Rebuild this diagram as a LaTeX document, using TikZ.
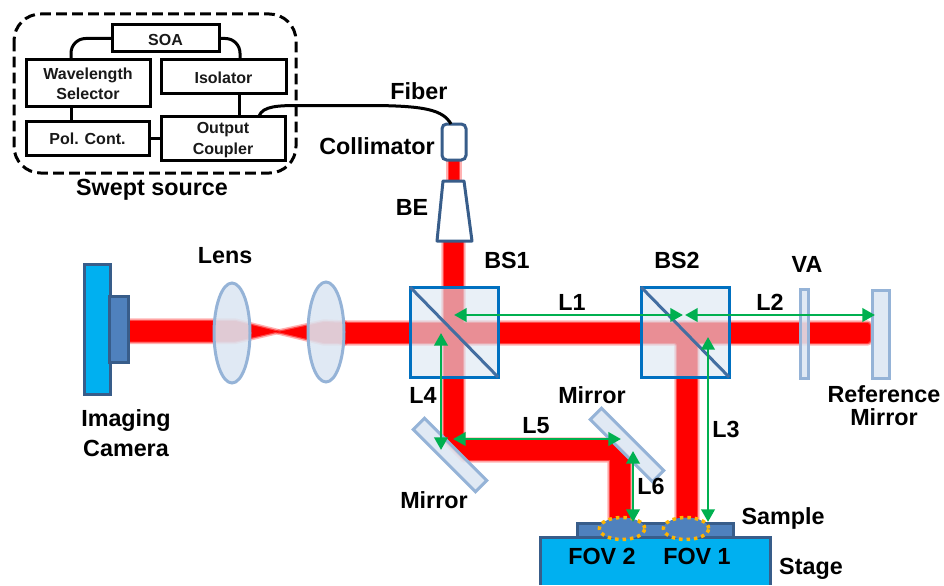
\documentclass[tikz,border=0pt]{standalone}
\usepackage{fontspec}
\setmainfont{Liberation Sans}
\usetikzlibrary{arrows.meta,shapes.geometric}
\definecolor{beamred}{RGB}{255,0,0}
\definecolor{edgedark}{RGB}{56,93,138}
\definecolor{edgeblue}{RGB}{0,112,192}
\definecolor{edgepale}{RGB}{149,179,215}
\definecolor{palefill}{RGB}{220,230,242}
\definecolor{camblue}{RGB}{0,176,240}
\definecolor{midblue}{RGB}{79,129,189}
\definecolor{arrowgreen}{RGB}{0,176,80}
\definecolor{fovgold}{RGB}{255,180,0}
% \pxbox{style}{name}{x1}{y1}{x2}{y2}{text}
\newcommand{\pxbox}[7][]{%
  \pgfmathsetmacro{\pxw}{(#5-#3)*0.75}%
  \pgfmathsetmacro{\pxh}{(#6-#4)*0.75}%
  \node[#2,minimum width=\pxw pt,minimum height=\pxh pt,inner sep=0pt,outer sep=0pt,#1] (#7)
     at ({(#3+#5)/2},{(#4+#6)/2}) {};}
\tikzset{
  x=0.75pt,y=-0.75pt,
  srcbox/.style={draw=black,line width=2.25pt,fill=white},
  srctext/.style={font=\bfseries\fontsize{12}{14.4}\selectfont,align=center,text=black!90,inner sep=0pt},
  lab/.style={font=\bfseries\fontsize{17.5}{15}\selectfont,align=center,inner sep=0pt,text=black},
  wire/.style={draw=black,line width=2.25pt},
  beam/.style={fill=beamred,preaction={draw=red,opacity=.3,line width=4pt,line join=round},preaction={draw=red,opacity=.6,line width=1.8pt,line join=round}},
  splitter/.style={draw=edgeblue,line width=2.25pt,fill=palefill,fill opacity=.62},
  optic/.style={draw=edgepale,line width=2.25pt,fill=palefill,fill opacity=.88},
  solid part/.style={draw=edgedark,line width=2.25pt},
  measure/.style={draw=arrowgreen,line width=2.2pt,{Triangle[length=9.5pt,width=10pt]}-{Triangle[length=9.5pt,width=10pt]}},
  fovring/.style={ellipse,draw=fovgold,line width=2.6pt,dash pattern=on 2.6pt off 3pt,inner sep=0pt,minimum width=34pt,minimum height=16.5pt},
}
\begin{document}
\begin{tikzpicture}
\useasboundingbox (0,0) rectangle (944,585);

% --- swept source
\draw[draw=black,line width=2.25pt,dash pattern=on 8pt off 4pt,rounded corners=20pt] (14,14) rectangle (296,173);
\pxbox{srcbox}{112}{25}{219}{52}{soa}
\pxbox{srcbox}{26}{60}{150}{106}{ws}
\pxbox{srcbox}{161}{60}{286}{93}{iso}
\pxbox{srcbox}{26}{121}{149}{155}{pol}
\pxbox{srcbox}{161}{116}{285}{160}{oc}
\node[srctext] (soat) at (165.5,40) {SOA};
\node[srctext] (wst) at (88,84) {Wavelength\\[1pt]Selector};
\node[srctext] (isot) at (223.5,77.5) {Isolator};
\node[srctext] (polt) at (87.5,139) {Pol. Cont.};
\node[srctext] (oct) at (223,140) {Output\\[1.5pt]Coupler};
\coordinate (wsa) at (71,60);
\coordinate (wsb) at (71,106);
\coordinate (pola) at (71,121);
\coordinate (isoa) at (240,60);
\coordinate (isob) at (239,93);
\coordinate (oca) at (239,116);
\coordinate (fibera) at (259,116);
\draw[wire,rounded corners=11pt] (soa.west) -| (wsa);
\draw[wire,rounded corners=11pt] (soa.east) -| (isoa);
\draw[wire] (wsb) -- (pola);
\draw[wire] (isob) -- (oca);
\draw[wire] (pol.east) -- (oc.west |- pol.east);

% --- beams
\path[beam] (449,160) rectangle (459,182);
\path[beam] (444,241) -- (463,241) -- (463,440) -- (610,440) -- (630,460) -- (630,522) -- (610,522) -- (610,460) -- (464,460) -- (444,440) -- cycle;
\path[beam] (128,321) -- (235,321) -- (278,331.5) -- (235,341.5) -- (128,341.5) -- cycle;
\path[beam] (278,332) -- (324,322) -- (345,323) -- (345,343) -- (324,343) -- cycle;
\path[beam,rounded corners=2pt] (340,323) -- (870,323) -- (870,343) -- (697,343) -- (697,522) -- (677,522) -- (677,343) -- (340,343) -- cycle;

% --- collimator, beam expander
\pxbox[rounded corners=3.5pt]{draw=edgedark,line width=2.25pt,fill=white}{442}{124}{466}{160}{coll}
\coordinate (be1) at (443,181);
\coordinate (be2) at (464,181);
\coordinate (be3) at (472,241);
\coordinate (be4) at (437,241);
\draw[solid part,fill=white,line join=round] (be1) -- (be2) -- (be3) -- (be4) -- cycle;
\coordinate (fiberb) at (451,124);
\draw[draw=black,line width=2.25pt] (fibera) .. controls (263,106) and (278,105.5) .. (300,105.5) -- (375,105.5) .. controls (425,106) and (443,110) .. (fiberb);

% --- beam splitters
\pxbox{splitter}{410}{287}{498}{377}{bsone}
\pxbox{splitter}{641}{287}{729}{377}{bstwo}
\draw[draw=midblue!85!black,line width=2.25pt] (bsone.north west) -- (bsone.south east);
\draw[draw=midblue!85!black,line width=2.25pt] (bstwo.north west) -- (bstwo.south east);

% --- lenses, plates, mirrors
\node[ellipse,optic,minimum width=27pt,minimum height=75pt,inner sep=0pt] (lensa) at (232,333) {};
\node[ellipse,optic,minimum width=27pt,minimum height=75pt,inner sep=0pt] (lensb) at (326,332) {};
\pxbox{optic}{800}{289}{808}{378}{va}
\pxbox{optic}{872}{290}{889}{378}{refm}
\node[optic,rotate=-45,minimum width=66pt,minimum height=12pt,inner sep=0pt] (mirrora) at (450,455) {};
\node[optic,rotate=-45,minimum width=66pt,minimum height=12pt,inner sep=0pt] (mirrorb) at (627,445) {};

% --- camera
\pxbox[fill=camblue]{solid part}{84}{264}{110}{394}{cam}
\pxbox[fill=midblue]{solid part}{109}{296}{128}{362}{camf}

% --- sample and stage
\path[fill=camblue] (540,537) rectangle (770,585);
\draw[solid part] (540,585) -- (540,537) -- (770,537) -- (770,585);
\pxbox[fill=midblue]{solid part}{577}{523}{733}{537}{sample}
\node[fovring,fill=midblue] (fovb) at (622,528.5) {};
\node[fovring,fill=midblue] (fova) at (686,528.5) {};

% --- measures
\coordinate (la) at (454,315);
\coordinate (lb) at (683,315);
\coordinate (lc) at (685,315);
\coordinate (ld) at (875,315);
\coordinate (le) at (708,337);
\coordinate (lf) at (708,522);
\coordinate (lg) at (441,333);
\coordinate (lh) at (441,450);
\coordinate (li) at (453,439);
\coordinate (lj) at (621,439);
\coordinate (lk) at (633,451);
\coordinate (ll) at (633,522);
\draw[measure] (la) -- (lb);
\draw[measure] (lc) -- (ld);
\draw[measure] (le) -- (lf);
\draw[measure] (lg) -- (lh);
\draw[measure] (li) -- (lj);
\draw[measure] (lk) -- (ll);

% --- labels
\node[lab] (t1) at (152,190) {Swept source};
\node[lab] (t2) at (419,91) {Fiber};
\node[lab] (t3) at (377,146) {Collimator};
\node[lab] (t4) at (412,207) {BE};
\node[lab] (t5) at (225,256) {Lens};
\node[lab] (t6) at (507,260) {BS1};
\node[lab] (t7) at (677,260) {BS2};
\node[lab] (t8) at (807,264) {VA};
\node[lab] (t9) at (126,433) {Imaging\\[6pt]Camera};
\node[lab] (t11) at (884,405.5) {Reference\\[2.2pt]Mirror};
\node[lab] (t13) at (572,302) {L1};
\node[lab] (t14) at (770,302) {L2};
\node[lab] (t15) at (726,429) {L3};
\node[lab] (t16) at (423,395) {L4};
\node[lab] (t17) at (536,426) {L5};
\node[lab] (t18) at (651,486) {L6};
\node[lab] (t19) at (592,395) {Mirror};
\node[lab] (t20) at (434,500) {Mirror};
\node[lab] (t21) at (783,518) {Sample};
\node[lab] (t22) at (811,569) {Stage};
\node[lab] (t23) at (602,556) {FOV 2};
\node[lab] (t24) at (697,556) {FOV 1};
\end{tikzpicture}
\end{document}
